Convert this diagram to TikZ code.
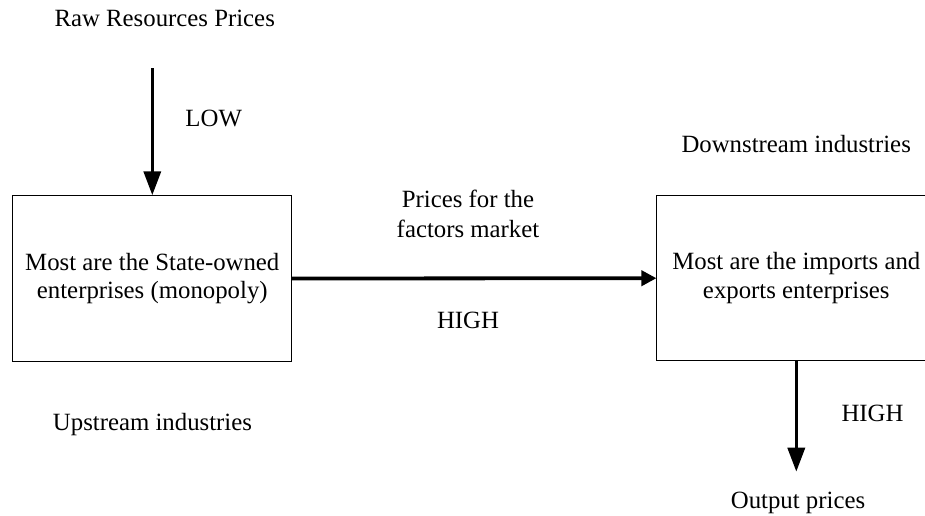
\documentclass[tikz,border=0pt]{standalone}
\usepackage{fontspec}
\setmainfont{Liberation Serif}
\usetikzlibrary{arrows.meta}
\begin{document}
\begin{tikzpicture}[x=1pt,y=-1pt,
  every node/.style={font=\fontsize{24.8}{28.6}\selectfont, inner sep=0pt},
  blockbox/.style={draw, line width=1pt, minimum width=278.7pt, minimum height=165.5pt, align=center},
  caption/.style={anchor=base},
  bigflow/.style={line width=3.6pt, -{Triangle[length=24pt,width=17pt]}},
  sideflow/.style={line width=3.8pt, -{Triangle[length=15pt,width=15pt]}}]
\useasboundingbox (0,0) rectangle (925,515);
\clip (0,0) rectangle (925,515);

% the two industry blocks
\node[blockbox] (up) at (152.3,278.5) {Most are the State-owned\\enterprises (monopoly)};
\node[blockbox] (down) at (796.3,278.2) {Most are the imports and\\exports enterprises};

% free ends of the vertical flows
\coordinate (rawsrc) at (152.3,68);
\coordinate (outsink) at (796.3,471.7);

% labels (a two-line caption sits on the baseline of its last line)
\node[caption] (raw) at (164.7,26.7) {Raw Resources Prices};
\node[caption] (low) at (213.7,126.7) {LOW};
\node[caption, align=center, font=\fontsize{24.8}{30.4}\selectfont] (factors) at (468,237.7) {Prices for the\\factors market};
\node[caption] (highmid) at (468,328.3) {HIGH};
\node[caption] (upname) at (152.5,430) {Upstream industries};
\node[caption] (downname) at (796.2,152.7) {Downstream industries};
\node[caption] (highout) at (872.5,421.7) {HIGH};
\node[caption] (output) at (798,508) {Output prices};

% price flows
\draw[bigflow] (rawsrc) -- (up.north);
\draw[sideflow] (up.east) -- (down.west);
\draw[bigflow] (down.south) -- (outsink);
\end{tikzpicture}
\end{document}
